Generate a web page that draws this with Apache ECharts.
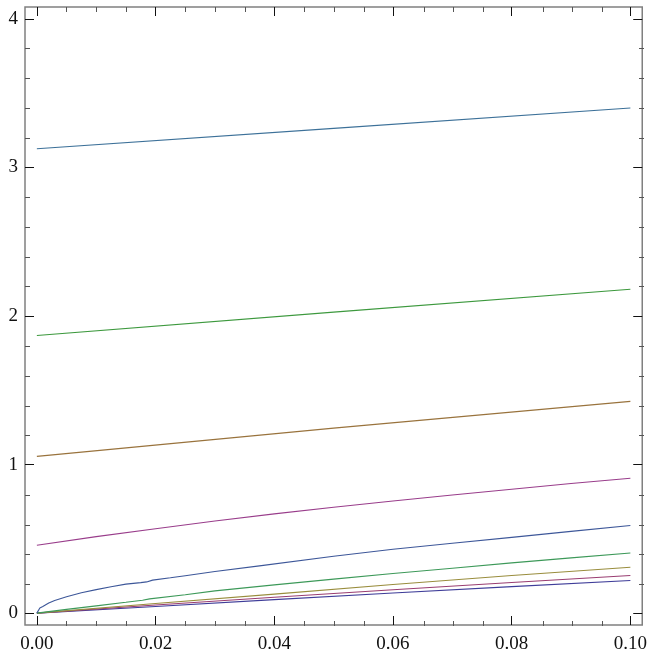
<!DOCTYPE html>
<html>
<head>
<meta charset="utf-8">
<script src="https://cdn.jsdelivr.net/npm/echarts@6/dist/echarts.min.js"></script>
<style>
  html, body { margin: 0; padding: 0; background: #fff; }
  #chart { width: 650px; height: 654px; }
</style>
</head>
<body>
<div id="chart"></div>
<script>
// Tick positions
const xMajorTicks = [0, 0.02, 0.04, 0.06, 0.08, 0.1];
const xMinorTicks = [0.005, 0.01, 0.015, 0.025, 0.03, 0.035, 0.045, 0.05, 0.055, 0.065, 0.07, 0.075, 0.085, 0.09, 0.095];
const yMajorTicks = [0, 1, 2, 3, 4];
const yMinorTicks = [0.2, 0.4, 0.6, 0.8, 1.2, 1.4, 1.6, 1.8, 2.2, 2.4, 2.6, 2.8, 3.2, 3.4, 3.6, 3.8];

// Curves: [x, y] samples
const curve1 = [[0, 0], [0.02, 0.045], [0.04, 0.091], [0.06, 0.135], [0.08, 0.178], [0.1, 0.22]];
const curve2 = [[0, 0], [0.02, 0.055], [0.04, 0.107], [0.06, 0.157], [0.08, 0.206], [0.1, 0.253]];
const curve3 = [[0, 0], [0.02, 0.065], [0.04, 0.128], [0.06, 0.193], [0.08, 0.253], [0.1, 0.309]];
const curve4 = [[0, 0], [0.005, 0.025], [0.01, 0.049], [0.015, 0.073], [0.0178, 0.087], [0.019, 0.096],
  [0.025, 0.124], [0.03, 0.15], [0.04, 0.19], [0.05, 0.229], [0.06, 0.267], [0.07, 0.302],
  [0.08, 0.338], [0.09, 0.372], [0.1, 0.405]];
const curve5 = [[0, 0], [0.0005, 0.035], [0.001, 0.045], [0.002, 0.068], [0.003, 0.085], [0.005, 0.11],
  [0.0075, 0.137], [0.01, 0.158], [0.0125, 0.178], [0.015, 0.195], [0.0175, 0.205], [0.0185, 0.21],
  [0.0195, 0.222], [0.0225, 0.238], [0.025, 0.252], [0.03, 0.28], [0.0375, 0.318], [0.05, 0.383],
  [0.06, 0.43], [0.07, 0.47], [0.08, 0.51], [0.09, 0.55], [0.1, 0.59]];
const curve6 = [[0, 0.457], [0.01, 0.515], [0.02, 0.568], [0.03, 0.62], [0.04, 0.668], [0.05, 0.713],
  [0.06, 0.755], [0.07, 0.795], [0.08, 0.834], [0.09, 0.872], [0.1, 0.908]];
const curve7 = [[0, 1.055], [0.05, 1.245], [0.1, 1.425]];
const curve8 = [[0, 1.869], [0.05, 2.026], [0.1, 2.18]];
const curve9 = [[0, 3.126], [0.05, 3.263], [0.1, 3.4]];

const curves = [curve1, curve2, curve3, curve4, curve5, curve6, curve7, curve8, curve9];
const colors = ['#3f3d99', '#993d71', '#998d3d', '#3d9959', '#3d5799', '#993d8b', '#99733d', '#3d993e', '#3d7199'];

const FONT = '"Liberation Serif", "Times New Roman", serif';
const X_RANGE = [-0.002, 0.102];
const Y_RANGE = [-0.08, 4.08];
const GRID_BOX = { left: 25, right: 6, top: 7, bottom: 28 };

// One axis carrying a set of inward ticks (optionally labelled)
function tickAxis(kind, gridIndex, position, values, len, color, labels) {
  const axis = {
    type: 'value',
    gridIndex: gridIndex,
    position: position,
    min: kind === 'x' ? X_RANGE[0] : Y_RANGE[0],
    max: kind === 'x' ? X_RANGE[1] : Y_RANGE[1],
    axisLine: { show: false, onZero: false },
    splitLine: { show: false },
    axisTick: { show: true, inside: true, length: len, customValues: values,
      lineStyle: { color: color, width: 1 } },
    axisLabel: { show: false }
  };
  if (labels) {
    axis.axisLabel = {
      show: true,
      customValues: values,
      fontFamily: FONT,
      fontSize: 19,
      color: '#111',
      margin: kind === 'x' ? 10 : 7,
      formatter: kind === 'x' ? (v) => v.toFixed(2) : (v) => String(Math.round(v))
    };
  }
  return axis;
}

const chart = echarts.init(document.getElementById('chart'), null, { renderer: 'canvas' });
chart.setOption({
  animation: false,
  backgroundColor: '#fff',
  grid: [
    Object.assign({ show: true, borderColor: '#808080', borderWidth: 1.5, backgroundColor: 'transparent' }, GRID_BOX),
    Object.assign({ show: false }, GRID_BOX)
  ],
  xAxis: [
    tickAxis('x', 0, 'bottom', xMajorTicks, 9, '#111', true),
    tickAxis('x', 0, 'top', xMajorTicks, 9, '#111', false),
    tickAxis('x', 1, 'bottom', xMinorTicks, 5, '#555', false),
    tickAxis('x', 1, 'top', xMinorTicks, 5, '#555', false)
  ],
  yAxis: [
    tickAxis('y', 0, 'left', yMajorTicks, 9, '#111', true),
    tickAxis('y', 0, 'right', yMajorTicks, 9, '#111', false),
    tickAxis('y', 1, 'left', yMinorTicks, 5, '#555', false),
    tickAxis('y', 1, 'right', yMinorTicks, 5, '#555', false)
  ],
  series: curves.map((c, i) => ({
    type: 'line',
    xAxisIndex: 0,
    yAxisIndex: 0,
    data: c,
    showSymbol: false,
    smooth: false,
    lineStyle: { color: colors[i], width: 1.1 },
    silent: true
  }))
});
</script>
</body>
</html>
